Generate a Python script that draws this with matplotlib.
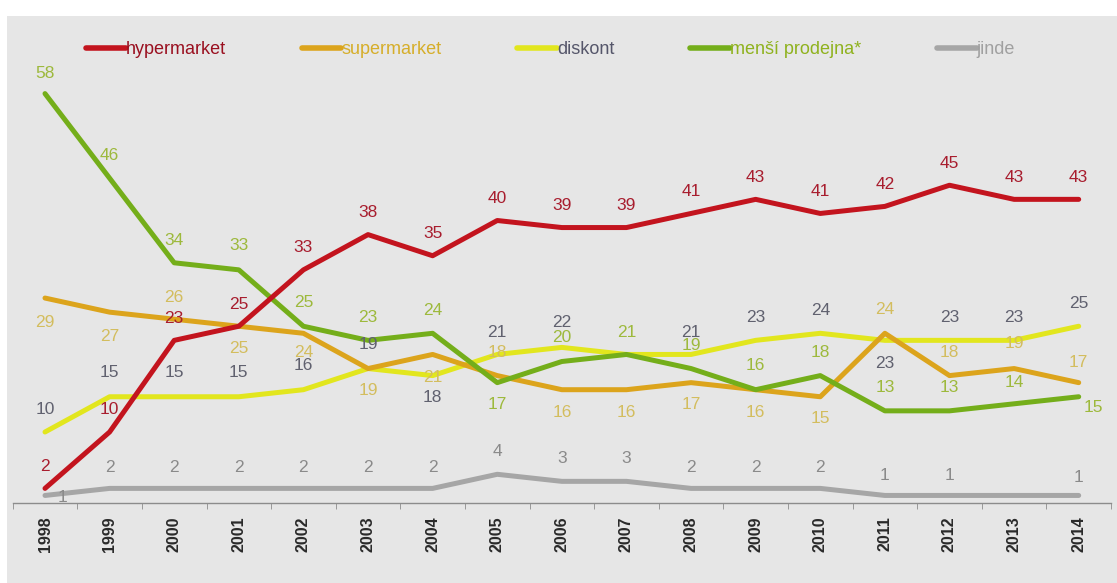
import matplotlib
matplotlib.use("Agg")
import matplotlib.pyplot as plt
from matplotlib.patches import Rectangle
from matplotlib.ticker import FixedLocator

plt.rcParams['font.family'] = ['Liberation Sans', 'DejaVu Sans']

years = list(range(1998, 2015))
hypermarket = [2, 10, 23, 25, 33, 38, 35, 40, 39, 39, 41, 43, 41, 42, 45, 43, 43]
supermarket = [29, 27, 26, 25, 24, 19, 21, 18, 16, 16, 17, 16, 15, 24, 18, 19, 17]
diskont = [10, 15, 15, 15, 16, 19, 18, 21, 22, 21, 21, 23, 24, 23, 23, 23, 25]
mensi = [58, 46, 34, 33, 25, 23, 24, 17, 20, 21, 19, 16, 18, 13, 13, 14, 15]
jinde = [1, 2, 2, 2, 2, 2, 2, 4, 3, 3, 2, 2, 2, 1, 1, 1, 1]
names = ['hypermarket', 'supermarket', 'diskont', 'menší prodejna*', 'jinde']

# label offsets in pixels (style, not data)
hyper_dy = [22] * 17
super_dy = [-24, -24, 22, -22, -19, -22, -23, 23, -23, -23, -22, -23, -22, 24, 23, 25, 20]
disk_dy = [23, 24, 24, 24, 24, 24, -22, 22, 25, None, 22, 23, 23, -23, 23, 23, 23]
green_dy = [20, 23, 22, 24, 24, 23, 23, -22, 24, 22, 23, 24, 23, 23, 23, 21, -11]
green_dx = [0] * 16 + [15]
jinde_dy = [-2, 21, 21, 21, 21, 21, 21, 23, 23, 23, 21, 21, 21, 20, 20, None, 18]
jinde_dx = [17] + [0] * 16

W, H = 1117, 583
fig = plt.figure(figsize=(W / 100, H / 100), dpi=100, facecolor='white')
bg = Rectangle((7 / W, 0), 1 - 7 / W, (H - 16) / H, transform=fig.transFigure,
               facecolor='#e6e6e6', edgecolor='none', zorder=-10)
fig.add_artist(bg)

ax = fig.add_axes([12.7 / W, (H - 502.5) / H, (1111 - 12.7) / W, (502.5 - 65.4) / H])
ax.set_facecolor('none')
ax.set_zorder(1)
ax.set_xlim(1997.5, 2014.5)
ax.set_ylim(0, 62)

series = [
    (jinde, '#a6a6a6', '#8a8a8a', jinde_dy, jinde_dx, 1),
    (diskont, '#e2e61e', '#60616f', disk_dy, [0] * 17, 2),
    (supermarket, '#dca41c', '#d3bd5e', super_dy, [0] * 17, 3),
    (mensi, '#74ae1a', '#9db93c', green_dy, green_dx, 4),
    (hypermarket, '#c3141e', '#a81d2e', hyper_dy, [0] * 17, 5),
]
legend_text_colors = ['#9a1020', '#d6ae2a', '#55566a', '#8fb21e', '#a0a0a0']
order_legend = [4, 2, 1, 3, 0]
handles = []
for vals, lc, tc, dys, dxs, z in series:
    ln, = ax.plot(years, vals, color=lc, lw=3.6, solid_capstyle='round',
                  solid_joinstyle='round', zorder=z, clip_on=False)
    handles.append(ln)
    for x, v, dy, dx in zip(years, vals, dys, dxs):
        if dy is None:
            continue
        ax.annotate(str(v), (x, v), xytext=(dx, dy), textcoords='offset pixels',
                    ha='center', va='center', fontsize=12.5, color=tc, zorder=6)

for s in ['top', 'right', 'left']:
    ax.spines[s].set_visible(False)
ax.spines['bottom'].set_color('#8c8c8c')
ax.spines['bottom'].set_linewidth(1.0)
ax.set_yticks([])
ax.set_xticks(years)
ax.set_xticklabels([str(y) for y in years], rotation=90, fontsize=11.5,
                   fontweight='bold', color='#2a2a2a')
ax.tick_params(axis='x', which='major', length=0, pad=10)
ax.xaxis.set_minor_locator(FixedLocator([y + 0.5 for y in range(1997, 2015)]))
ax.tick_params(axis='x', which='minor', length=4, color='#8c8c8c', direction='out')

hl = [handles[i] for i in order_legend]
leg = fig.legend(hl, names, loc='center left', bbox_to_anchor=(86 / W, 1 - 50 / H),
                 ncol=5, frameon=False, fontsize=13, handlelength=2.2,
                 handletextpad=0.0, columnspacing=4.2, borderpad=0, borderaxespad=0)
for t, c in zip(leg.get_texts(), legend_text_colors):
    t.set_color(c)
for l in leg.get_lines():
    l.set_linewidth(4)

fig.savefig('out.png', dpi=100, facecolor='white')
